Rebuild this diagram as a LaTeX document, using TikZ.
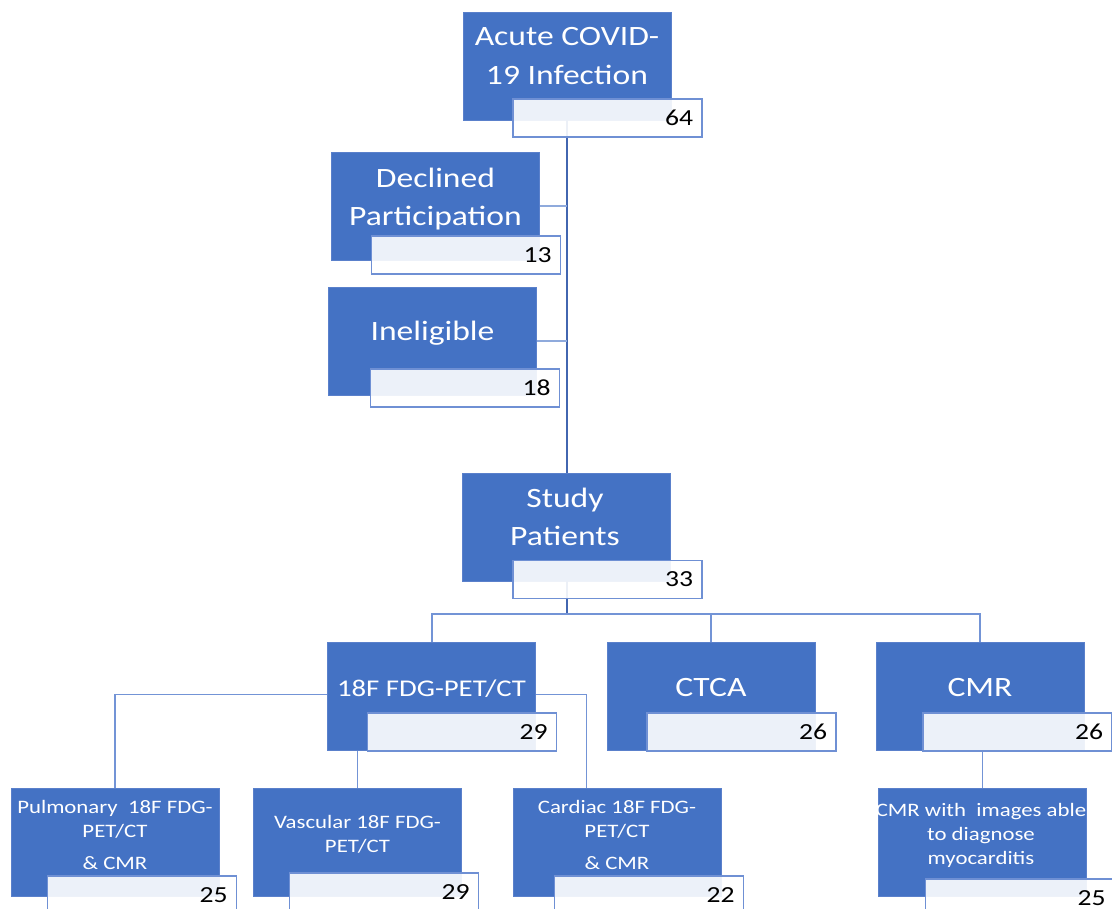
\documentclass[tikz,border=0pt]{standalone}
\usepackage{fontspec}
\setmainfont{Carlito}
\newfontfamily\widecarlito[FakeStretch=1.2]{Carlito}
\usepackage{tikz}
\usetikzlibrary{calc,positioning}

\definecolor{boxblue}{HTML}{4472C4}
\definecolor{boxedge}{HTML}{5A80CB}
\definecolor{cntedge}{HTML}{6F90D4}
\definecolor{trunkcol}{HTML}{4266B0}
\definecolor{branchcol}{HTML}{8FAADC}
\definecolor{subcol}{HTML}{7394D6}

\newcommand\boxbig{\widecarlito\fontsize{28}{38.5}\selectfont}
\newcommand\boxmid{\widecarlito\fontsize{24}{30}\selectfont}
\newcommand\boxsmall{\widecarlito\fontsize{19}{24}\selectfont}
\newcommand\cntfont{\widecarlito\fontsize{23}{26}\selectfont}

\tikzset{
  box/.style={rectangle,fill=boxblue,draw=boxedge,line width=0.8pt,
    minimum width=208pt,minimum height=108pt,inner sep=0pt},
  cnt/.style={rectangle,fill=white,fill opacity=0.9,text opacity=1,
    draw=cntedge,line width=1.2pt,minimum height=38pt,text width=171pt,
    inner xsep=9pt,inner ysep=0pt,align=right,text depth=0pt,font=\cntfont},
  bigtxt/.style={text=white,align=center,text depth=0pt,inner sep=0pt,font=\boxbig},
  midtxt/.style={bigtxt,font=\boxmid},
  smalltxt/.style={bigtxt,font=\boxsmall},
  trunk/.style={draw=trunkcol,line width=2.6pt},
  branch/.style={draw=branchcol,line width=2pt},
  bus/.style={draw=subcol,line width=2pt},
  sub/.style={draw=subcol,line width=1.8pt}
}

\begin{document}
\begin{tikzpicture}[x=1pt,y=-1pt]
  \useasboundingbox (0,0) rectangle (1112,909);
  \clip (0,0) rectangle (1112,909);

  % boxes
  \node[box] (top) at (567,66) {};
  \node[box] (decl) at (435.5,206.5) {};
  \node[box] (inel) at (432.5,341) {};
  \node[box] (study) at (566,527) {};
  \node[box] (pet) at (431.5,696.5) {};
  \node[box] (ctca) at (711,696.5) {};
  \node[box] (cmr) at (980,696.5) {};
  \node[box] (pulm) at (115,842) {};
  \node[box] (vasc) at (357.5,842) {};
  \node[box] (card) at (617.5,842) {};
  \node[box] (myo) at (982.5,842) {};

  % connectors
  \coordinate (bus) at (567,614);
  \draw[trunk] (top.south) -- (top.south |- study.north);
  \draw[branch] (decl.east) -- (decl.east -| top.south);
  \draw[branch] (inel.east) -- (inel.east -| top.south);
  \draw[trunk] (top.south |- study.south) -- (bus);
  \draw[bus] (pet.north) |- (bus) -| (cmr.north);
  \draw[bus] (ctca.north) -- (ctca.north |- bus);
  \draw[sub] ([yshift=2pt]pet.west) -| (pulm.north);
  \draw[sub] ([yshift=2pt]pet.east) -| ([xshift=-31pt]card.north);
  \draw[sub] (vasc.north) -- (vasc.north |- pet.south);
  \draw[sub] (myo.north) -- (myo.north |- cmr.south);

  % counts
  \node[cnt] (topn) at (607.5,118) {64};
  \node[cnt] (decln) at (466,255) {13};
  \node[cnt] (ineln) at (465,388) {18};
  \node[cnt] (studyn) at (607.5,579.5) {33};
  \node[cnt] (petn) at (462,732) {29};
  \node[cnt] (ctcan) at (741.5,732) {26};
  \node[cnt] (cmrn) at (1017.5,732) {26};
  \node[cnt] (pulmn) at (142,895) {25};
  \node[cnt] (vascn) at (384,892) {29};
  \node[cnt] (cardn) at (649,895) {22};
  \node[cnt] (myon) at (1020,898) {25};

  % texts
  \node[bigtxt] (topt) at (567,56) {Acute COVID-\\19 Infection};
  \node[bigtxt] (declt) at (435.5,197) {Declined\\Participation};
  \node[bigtxt] (inelt) at (432.5,331) {Ineligible};
  \node[bigtxt] (studyt) at (565,517) {Study\\Patients};
  \node[midtxt] (pett) at (431.5,688) {18F FDG-PET/CT};
  \node[bigtxt] (ctcat) at (711,687) {CTCA};
  \node[bigtxt] (cmrt) at (980,687) {CMR};
  \node[smalltxt] (pulmt) at (115,835) {Pulmonary~ 18F FDG-\\PET/CT\\[8pt]\& CMR};
  \node[smalltxt] (vasct) at (357.5,834) {Vascular 18F FDG-\\PET/CT};
  \node[smalltxt] (cardt) at (617,835) {Cardiac 18F FDG-\\PET/CT\\[8pt]\& CMR};
  \node[smalltxt] (myot) at (981,833.5) {CMR with~ images able\\to diagnose\\myocarditis};
\end{tikzpicture}
\end{document}
